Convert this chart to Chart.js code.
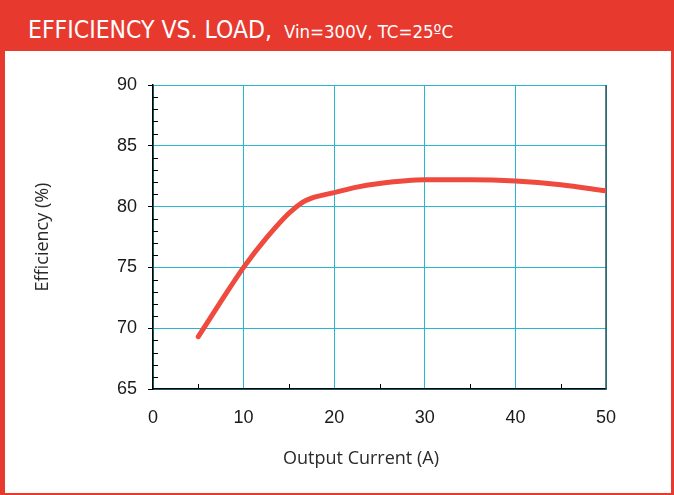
<!DOCTYPE html>
<html>
<head>
<meta charset="utf-8">
<script src="https://cdn.jsdelivr.net/npm/chart.js@4"></script>
<style>
  body { margin: 0; background: #ffffff; }
  #frame { position: relative; width: 674px; height: 495px; background: #e8392f; overflow: hidden; }
  #head { position: absolute; left: 28px; top: 15px; color: #ffffff; white-space: nowrap; }
  #head .big { font-family: "Liberation Sans Narrow", "DejaVu Sans Condensed", sans-serif; font-size: 24.5px; }
  #head .small { font-family: "Liberation Sans Narrow", "DejaVu Sans Condensed", sans-serif; font-size: 18.5px; margin-left: 12px; }
  #panel { position: absolute; left: 5px; top: 51px; width: 666px; height: 442px; background: #ffffff; }
  #xtitle { position: absolute; left: 0; width: 712px; top: 394px; text-align: center;
            font-family: "Open Sans", sans-serif; font-size: 18px; color: #2a2a2a; }
</style>
</head>
<body>
<div id="frame">
  <div id="head"><span class="big">EFFICIENCY VS. LOAD,</span><span class="small">Vin=300V, TC=25ºC</span></div>
  <div id="panel">
    <canvas id="myChart" width="666" height="442"></canvas>
    <div id="xtitle">Output Current (A)</div>
  </div>
</div>
<script>
// values
const current = [5, 7.5, 10, 12.5, 15, 16.5, 17.5, 18.5, 20, 22.5, 25, 30, 35, 40, 45, 50]
const efficiency = [69.3, 72.2, 75.0, 77.4, 79.45, 80.35, 80.7, 80.9, 81.15, 81.6, 81.9, 82.2, 82.2, 82.1, 81.8, 81.3]
const xTicks = [0, 10, 20, 30, 40, 50]
const yTicks = [65, 70, 75, 80, 85, 90]

const cyan = '#25b6d2'

// small inside ticks + dark right edge
const minorTicks = {
    id: 'minorTicks',
    beforeDatasetsDraw(chart) {
        const ctx = chart.ctx
        const x = chart.scales.x
        const y = chart.scales.y
        const area = chart.chartArea
        ctx.save()
        ctx.strokeStyle = '#000000'
        ctx.lineWidth = 1
        ctx.beginPath()
        for (let v = 66; v < 90; v++) {
            if (v % 5 === 0) continue
            const py = Math.round(y.getPixelForValue(v)) + 0.5
            ctx.moveTo(area.left, py)
            ctx.lineTo(area.left + 5, py)
        }
        for (let v = 5; v < 50; v += 10) {
            const px = Math.round(x.getPixelForValue(v)) + 0.5
            ctx.moveTo(px, area.bottom)
            ctx.lineTo(px, area.bottom - 5)
        }
        ctx.stroke()
        ctx.strokeStyle = '#2e5558'
        ctx.lineWidth = 1.5
        ctx.beginPath()
        ctx.moveTo(area.right, area.top)
        ctx.lineTo(area.right, area.bottom)
        ctx.stroke()
        ctx.restore()
    }
}

const points = current.map((c, i) => ({ x: c, y: efficiency[i] }))

const config = {
    type: 'line',
    data: {
        datasets: [{
            data: points,
            borderColor: '#ef4a3e',
            borderWidth: 5,
            pointRadius: 0,
            cubicInterpolationMode: 'monotone',
            borderCapStyle: 'round'
        }]
    },
    options: {
        responsive: false,
        animation: false,
        layout: { padding: { left: 20, top: 34, right: 65, bottom: 0 } },
        plugins: { legend: { display: false }, tooltip: { enabled: false } },
        scales: {
            x: {
                type: 'linear',
                min: 0,
                max: 50,
                afterFit: (s) => { s.height = 104 },
                afterBuildTicks: (s) => { s.ticks = xTicks.map(v => ({ value: v })) },
                border: { color: '#000000', width: 1.5 },
                grid: { color: cyan, lineWidth: 1, drawTicks: false },
                ticks: {
                    padding: 18,
                    color: '#1a1a1a',
                    font: { family: 'Liberation Sans', size: 18 }
                }
            },
            y: {
                min: 65,
                max: 90,
                afterFit: (s) => { s.width = 128 },
                afterBuildTicks: (s) => { s.ticks = yTicks.map(v => ({ value: v })) },
                border: { color: '#000000', width: 1.5 },
                grid: { color: cyan, lineWidth: 1, tickColor: '#000000', tickLength: 5 },
                ticks: {
                    padding: 11,
                    color: '#1a1a1a',
                    font: { family: 'Liberation Sans', size: 18 }
                },
                title: {
                    display: true,
                    text: 'Efficiency (%)',
                    color: '#2a2a2a',
                    padding: { top: 7, bottom: 0 },
                    font: { family: 'Open Sans', size: 18, lineHeight: 1.2 }
                }
            }
        }
    },
    plugins: [minorTicks]
}

const myChart = new Chart(document.getElementById('myChart'), config)
</script>
</body>
</html>
